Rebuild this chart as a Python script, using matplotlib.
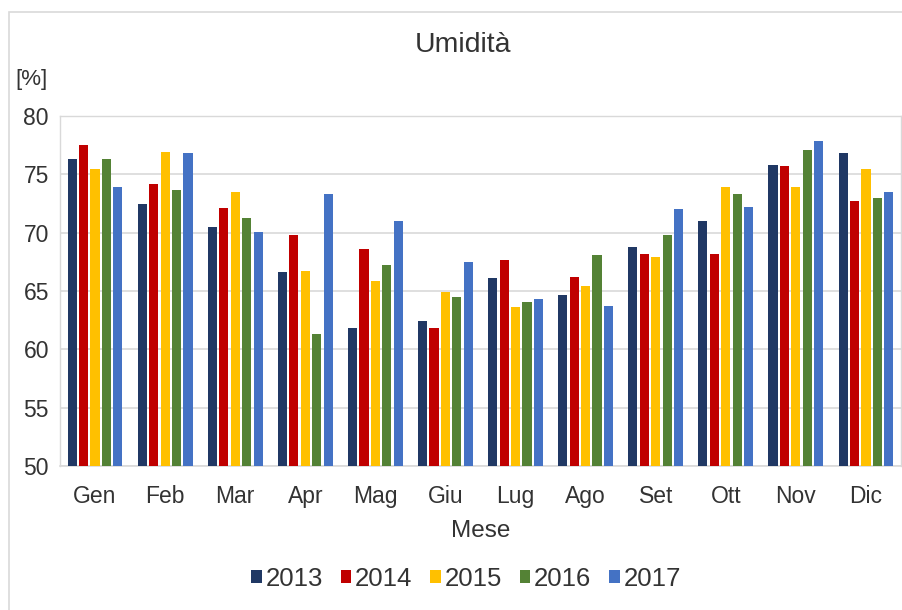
import matplotlib
matplotlib.use("Agg")
import matplotlib.pyplot as plt
import numpy as np
from matplotlib.patches import Rectangle

plt.rcParams['font.family'] = ['Liberation Sans', 'DejaVu Sans']

months = ["Gen", "Feb", "Mar", "Apr", "Mag", "Giu", "Lug", "Ago", "Set", "Ott", "Nov", "Dic"]
years = ["2013", "2014", "2015", "2016", "2017"]
v2013 = [76.3, 72.5, 70.5, 66.6, 61.8, 62.4, 66.1, 64.7, 68.8, 71.0, 75.8, 76.8]
v2014 = [77.5, 74.2, 72.1, 69.8, 68.6, 61.8, 67.7, 66.2, 68.2, 68.2, 75.7, 72.7]
v2015 = [75.5, 76.9, 73.5, 66.7, 65.9, 64.9, 63.6, 65.4, 67.9, 73.9, 73.9, 75.5]
v2016 = [76.3, 73.7, 71.3, 61.3, 67.2, 64.5, 64.1, 68.1, 69.8, 73.3, 77.1, 73.0]
v2017 = [73.9, 76.8, 70.1, 73.3, 71.0, 67.5, 64.3, 63.7, 72.0, 72.2, 77.9, 73.5]
series = [v2013, v2014, v2015, v2016, v2017]
colors = ["#203864", "#C00000", "#FFC000", "#548235", "#4472C4"]
text_color = "#333333"

W, H = 902, 610
fig = plt.figure(figsize=(W / 100, H / 100), dpi=100)
# outer chart border
fig.patches.append(Rectangle((9 / W, -0.1), 1.2, (H - 12) / H + 0.1, transform=fig.transFigure,
                             fill=False, edgecolor="#d9d9d9", linewidth=1.2))

ax = fig.add_axes([60 / W, 1 - 466 / H, (901 - 60) / W, (466 - 116) / H])
x = np.arange(len(months))
pitch = 0.163
width = 0.13
for i, (vals, c, yr) in enumerate(zip(series, colors, years)):
    ax.bar(x + (i - 2) * pitch, np.array(vals) - 50, width=width, bottom=50,
           color=c, label=yr, zorder=3)

ax.set_ylim(50, 80)
ax.set_xlim(-0.5, len(months) - 0.5)
ax.set_yticks(np.arange(50, 81, 5))
ax.set_xticks(x)
ax.set_xticklabels(months)
ax.yaxis.grid(True, color="#d9d9d9", linewidth=1.2, zorder=0)
for s in ["left", "right", "top"]:
    ax.spines[s].set_color("#d9d9d9")
    ax.spines[s].set_linewidth(1.0)
ax.spines["bottom"].set_color("#d9d9d9")
ax.spines["bottom"].set_linewidth(1.2)
ax.tick_params(axis="both", length=0, labelsize=16.5, colors=text_color)
ax.tick_params(axis="y", pad=8)
ax.tick_params(axis="x", pad=14)
ax.set_xlabel("Mese", fontsize=17.5, color=text_color)
ax.xaxis.label.set_va("center")
ax.xaxis.set_label_coords(0.5, (466 - 531) / 350)

fig.text(463 / W, 1 - 45 / H, "Umidità", ha="center", va="center", fontsize=20.5, color=text_color)
fig.text(15 / W, 1 - 80 / H, "[%]", ha="left", va="center", fontsize=16, color=text_color)

leg = fig.legend(loc="center", bbox_to_anchor=(466 / W, 1 - 579 / H), ncol=5, frameon=False,
                 fontsize=18.5, handlelength=0.42, handleheight=0.42, handletextpad=0.15,
                 columnspacing=0.68, labelcolor=text_color)

fig.savefig("out.png", dpi=100)
